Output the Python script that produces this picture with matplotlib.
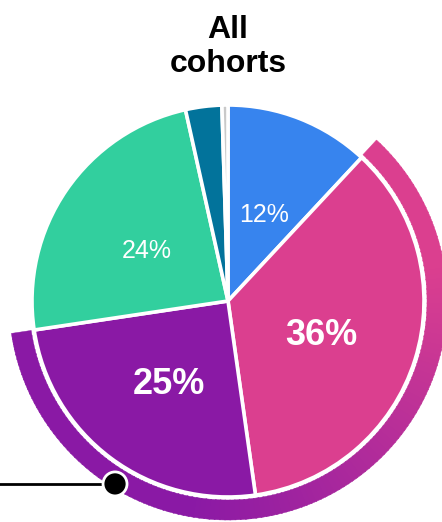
import numpy as np
import matplotlib.pyplot as plt
from matplotlib.patches import Wedge, Circle
from matplotlib.colors import to_rgb

plt.rcParams['font.family'] = ['Liberation Sans', 'DejaVu Sans']

# cohort shares, clockwise from 12 o'clock
labels = ['12%', '36%', '25%', '24%', '', '']
shares = [12, 36, 25, 24, 3, 0.5]
colors = ['#3784ee', '#db3f8f', '#8a19a5', '#32cf9e', '#02739b', '#c9c9c9']
big = [False, True, True, False, False, False]
highlight = [1, 2]          # slices wrapped by the outer arc
marker_angle = -121.7       # where the pointer dot sits on the arc (deg)

cx, cy, R = 228, 221, 196
ring_out, ring_w = 219, 20

fig = plt.figure(figsize=(4.42, 5.22), dpi=100)
ax = fig.add_axes([0, 0, 1, 1])

wedges, _ = ax.pie(shares, colors=colors, startangle=90, counterclock=False,
                   center=(cx, cy), radius=R,
                   wedgeprops=dict(edgecolor='white', linewidth=2.6))

# percentage labels at half radius
total = sum(shares)
start = 90.0
for lab, v, b in zip(labels, shares, big):
    mid = np.deg2rad(start - v / total * 180)
    start -= v / total * 360
    if not lab:
        continue
    x = cx + 0.5 * R * np.cos(mid)
    y = cy + 0.5 * R * np.sin(mid) - 5
    ax.text(x, y, lab, color='white', ha='center', va='center',
            fontsize=26 if b else 18, fontweight='bold' if b else 'normal')

# outer arc around highlighted slices, pink fading into purple
th2 = wedges[highlight[0]].theta2
th1 = wedges[highlight[-1]].theta1
c0, c1 = np.array(to_rgb('#db3f8f')), np.array(to_rgb('#8a19a5'))
steps = 160
edges = np.linspace(th1, th2, steps + 1)
for a, b in zip(edges[:-1], edges[1:]):
    t = np.clip((10 - (a + b) / 2) / 110, 0, 1)
    col = c0 * (1 - t) + c1 * t
    ax.add_patch(Wedge((cx, cy), ring_out, a, b + 0.3, width=ring_w,
                       facecolor=col, edgecolor=col, linewidth=0.3))

# pointer line and dot
mr = ring_out - 4
mx = cx + mr * np.cos(np.deg2rad(marker_angle))
my = cy + mr * np.sin(np.deg2rad(marker_angle))
ax.plot([0, mx], [my, my], color='black', lw=2, zorder=5)
ax.add_patch(Circle((mx, my), 12, facecolor='black', edgecolor='white',
                    linewidth=2, zorder=6))

ax.text(cx, 475, 'All\ncohorts', ha='center', va='center',
        fontsize=23, fontweight='bold', linespacing=1.15)

ax.set_xlim(0, 442)
ax.set_ylim(0, 522)
ax.set_aspect('equal')
ax.axis('off')

fig.savefig('out.png', dpi=100)
